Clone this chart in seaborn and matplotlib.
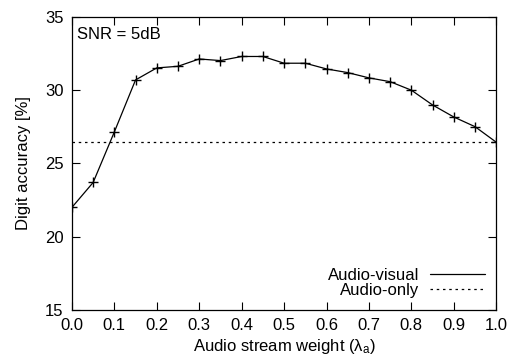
import matplotlib
matplotlib.use("Agg")
import matplotlib.pyplot as plt
from matplotlib.lines import Line2D
import seaborn as sns
import pandas as pd

weights = [0.0, 0.05, 0.1, 0.15, 0.2, 0.25, 0.3, 0.35, 0.4, 0.45, 0.5,
           0.55, 0.6, 0.65, 0.7, 0.75, 0.8, 0.85, 0.9, 0.95, 1.0]
audio_visual = [22.0, 23.7, 27.15, 30.7, 31.52, 31.63, 32.13, 32.02, 32.3, 32.3, 31.84,
                31.84, 31.45, 31.2, 30.84, 30.58, 30.0, 28.99, 28.17, 27.51, 26.45]
audio_only = 26.45
x_ticks = [0.0, 0.1, 0.2, 0.3, 0.4, 0.5, 0.6, 0.7, 0.8, 0.9, 1.0]
y_ticks = [15, 20, 25, 30, 35]

sns.set_style("ticks")
plt.rcParams['font.family'] = ['Liberation Sans', 'DejaVu Sans']
plt.rcParams['mathtext.fontset'] = 'custom'
plt.rcParams['mathtext.rm'] = 'Liberation Sans'
plt.rcParams['mathtext.it'] = 'Liberation Sans'
plt.rcParams['text.color'] = 'black'
plt.rcParams['axes.labelcolor'] = 'black'
plt.rcParams['xtick.color'] = 'black'
plt.rcParams['ytick.color'] = 'black'

fig = plt.figure(figsize=(5.1, 3.6), dpi=100)
ax = fig.add_axes([0.141, 0.139, 0.832, 0.814])

df = pd.DataFrame({"w": weights, "acc": audio_visual})
sns.lineplot(data=df, x="w", y="acc", ax=ax, color="black", lw=0.9,
             marker="+", markersize=7, markeredgewidth=1.0, markeredgecolor="black")
ax.axhline(audio_only, color="black", lw=0.9, ls=(0, (2, 3)))

ax.set_xlim(0, 1)
ax.set_ylim(15, 35)
ax.set_xticks(x_ticks)
ax.set_xticklabels([f"{t:.1f}" for t in x_ticks])
ax.set_yticks(y_ticks)
ax.tick_params(direction="in", top=True, right=True, length=6, width=0.8,
               labelsize=12, colors="black", labelcolor="black", pad=6)
for s in ax.spines.values():
    s.set_visible(True)
    s.set_linewidth(0.9)
    s.set_color("black")

ax.set_xlabel(r"Audio stream weight ($\lambda_a$)", fontsize=12, labelpad=3, color="black")
ax.set_ylabel("Digit accuracy [%]", fontsize=12, labelpad=10, color="black")
ax.text(0.012, 0.965, "SNR = 5dB", transform=ax.transAxes, fontsize=12,
        ha="left", va="top", color="black")

handles = [Line2D([], [], color="black", lw=0.9),
           Line2D([], [], color="black", lw=0.9, ls=(0, (2, 3)))]
ax.legend(handles, ["Audio-visual", "Audio-only"], loc="lower right",
          markerfirst=False, frameon=False, fontsize=12, handlelength=3.3,
          handletextpad=0.6, labelspacing=0.0, borderaxespad=0.3,
          labelcolor="black")

fig.savefig("out.png", dpi=100)
